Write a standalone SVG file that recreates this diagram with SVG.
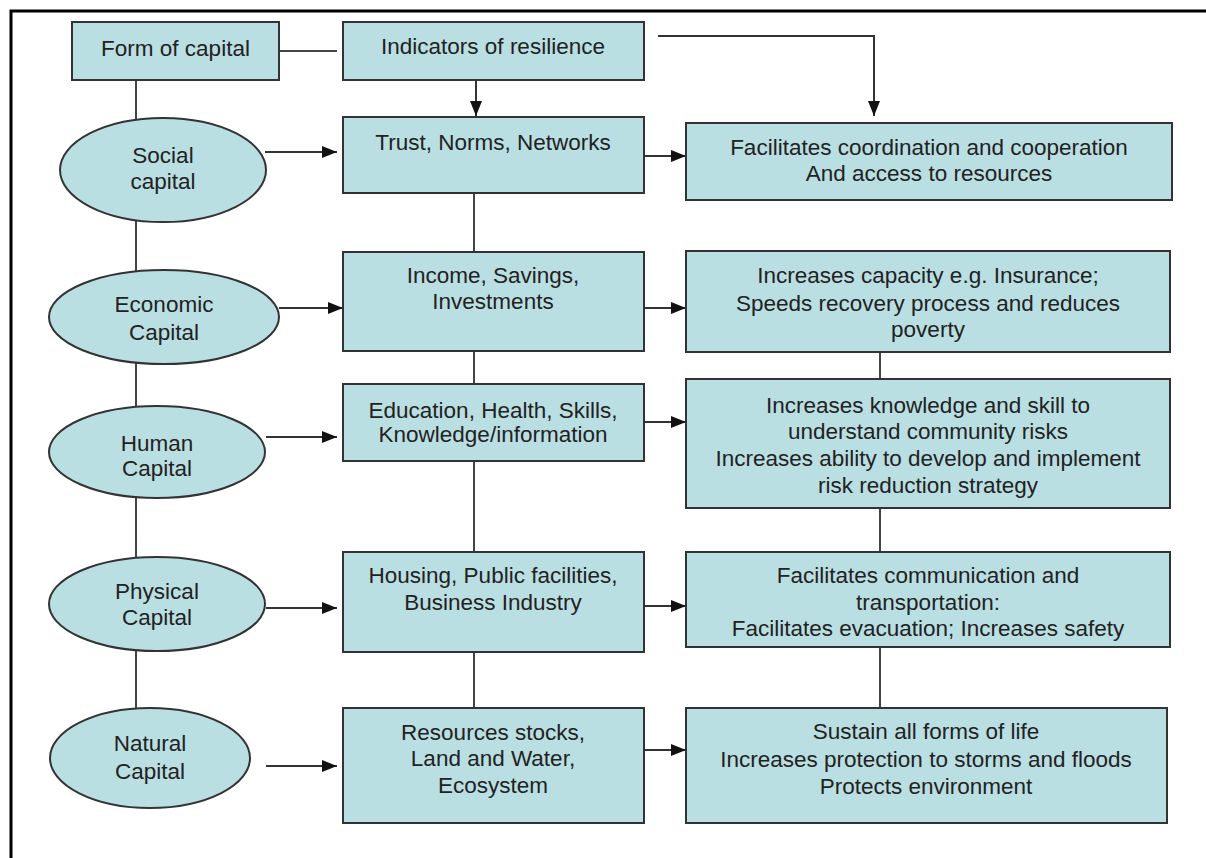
<svg xmlns="http://www.w3.org/2000/svg" width="1206" height="858" viewBox="0 0 1206 858">
<defs>
<marker id="ah" markerUnits="userSpaceOnUse" markerWidth="16" markerHeight="14" refX="15" refY="6" orient="auto">
<path d="M0,0 L15,6 L0,12 z" fill="#111"/>
</marker>
<style>
.box{fill:#badfe3;stroke:#333;stroke-width:2}
.t{font-family:"Liberation Sans",Arial,sans-serif;font-size:22.5px;fill:#222;text-anchor:middle}
.c{fill:none;stroke:#444;stroke-width:2}
.a{fill:none;stroke:#333;stroke-width:2;marker-end:url(#ah)}
.frame{fill:none;stroke:#000;stroke-width:3}
</style>
</defs>
<rect width="1206" height="858" fill="#fff"/>
<path class="frame" d="M11,858 V11 H1206"/>
<g id="connectors">
<path class="c" d="M279,51 H337"/>
<path class="c" d="M136,80 V730"/>
<path class="c" d="M474,193 V708"/>
<path class="c" d="M880,352 V708"/>
<path class="a" d="M658,36 H874 V116"/>
<path class="a" d="M476,80 V116"/>
<path class="a" d="M265,152 H337"/>
<path class="a" d="M279,308 H343"/>
<path class="a" d="M266,437 H337"/>
<path class="a" d="M266,608 H337"/>
<path class="a" d="M266,766 H337"/>
<path class="a" d="M644,156 H686"/>
<path class="a" d="M644,308 H686"/>
<path class="a" d="M644,422 H686"/>
<path class="a" d="M644,606 H686"/>
<path class="a" d="M644,750 H686"/>
</g>
<g id="form">
<rect class="box" x="72" y="22" width="207" height="58"/>
<text class="t" x="175.5" y="56">Form of capital</text>
</g>
<g id="indicators">
<rect class="box" x="343" y="22" width="301" height="58"/>
<text class="t" x="493" y="54">Indicators of resilience</text>
</g>
<g id="social">
<ellipse class="box" cx="163" cy="170" rx="103" ry="52"/>
<text class="t" x="163" y="163">Social</text>
<text class="t" x="163" y="189">capital</text>
</g>
<g id="trust">
<rect class="box" x="343" y="117" width="301" height="76"/>
<text class="t" x="493" y="150">Trust, Norms, Networks</text>
</g>
<g id="coordination">
<rect class="box" x="686" y="123" width="486" height="77"/>
<text class="t" x="929" y="155">Facilitates coordination and cooperation</text>
<text class="t" x="929" y="181">And access to resources</text>
</g>
<g id="economic">
<ellipse class="box" cx="164" cy="317" rx="115" ry="47"/>
<text class="t" x="164" y="312">Economic</text>
<text class="t" x="164" y="340">Capital</text>
</g>
<g id="income">
<rect class="box" x="343" y="252" width="301" height="99"/>
<text class="t" x="493" y="283">Income, Savings,</text>
<text class="t" x="493" y="309">Investments</text>
</g>
<g id="capacity">
<rect class="box" x="686" y="251" width="484" height="101"/>
<text class="t" x="928" y="283">Increases capacity e.g. Insurance;</text>
<text class="t" x="928" y="311">Speeds recovery process and reduces</text>
<text class="t" x="928" y="337">poverty</text>
</g>
<g id="human">
<ellipse class="box" cx="157" cy="452" rx="108" ry="46"/>
<text class="t" x="157" y="451">Human</text>
<text class="t" x="157" y="476">Capital</text>
</g>
<g id="education">
<rect class="box" x="343" y="384" width="301" height="77"/>
<text class="t" x="493" y="418">Education, Health, Skills,</text>
<text class="t" x="493" y="442">Knowledge/information</text>
</g>
<g id="knowledge">
<rect class="box" x="686" y="379" width="484" height="129"/>
<text class="t" x="928" y="413">Increases knowledge and skill to</text>
<text class="t" x="928" y="439">understand community risks</text>
<text class="t" x="928" y="466">Increases ability to develop and implement</text>
<text class="t" x="928" y="493">risk reduction strategy</text>
</g>
<g id="physical">
<ellipse class="box" cx="157" cy="604" rx="108" ry="47"/>
<text class="t" x="157" y="599">Physical</text>
<text class="t" x="157" y="625">Capital</text>
</g>
<g id="housing">
<rect class="box" x="343" y="552" width="301" height="100"/>
<text class="t" x="493" y="583">Housing, Public facilities,</text>
<text class="t" x="493" y="610">Business Industry</text>
</g>
<g id="communication">
<rect class="box" x="686" y="552" width="484" height="95"/>
<text class="t" x="928" y="583">Facilitates communication and</text>
<text class="t" x="928" y="610">transportation:</text>
<text class="t" x="928" y="636">Facilitates evacuation; Increases safety</text>
</g>
<g id="natural">
<ellipse class="box" cx="150" cy="758" rx="100" ry="50"/>
<text class="t" x="150" y="751">Natural</text>
<text class="t" x="150" y="779">Capital</text>
</g>
<g id="resources">
<rect class="box" x="343" y="708" width="301" height="115"/>
<text class="t" x="493" y="740">Resources stocks,</text>
<text class="t" x="493" y="766">Land and Water,</text>
<text class="t" x="493" y="793">Ecosystem</text>
</g>
<g id="sustain">
<rect class="box" x="686" y="708" width="481" height="115"/>
<text class="t" x="926" y="739">Sustain all forms of life</text>
<text class="t" x="926" y="767">Increases protection to storms and floods</text>
<text class="t" x="926" y="794">Protects environment</text>
</g>
</svg>
